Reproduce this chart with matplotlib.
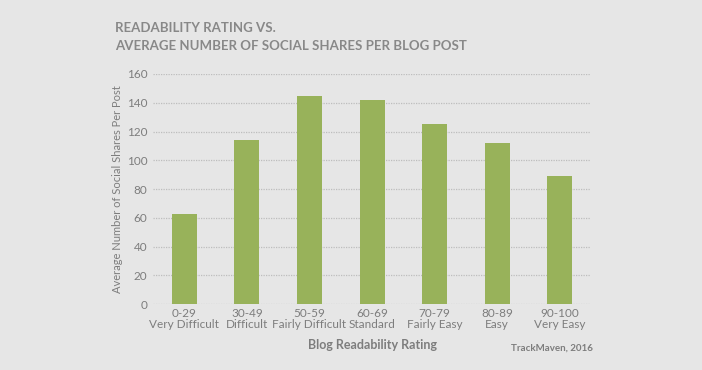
import matplotlib
matplotlib.use("Agg")
from matplotlib import pyplot as plt

# readability buckets and average shares
ranges = ["0-29", "30-49", "50-59", "60-69", "70-79", "80-89", "90-100"]
levels = ["Very Difficult", "Difficult", "Fairly Difficult", "Standard",
          "Fairly Easy", "Easy", "Very Easy"]
shares = [63, 114, 145, 142, 125, 112, 89]
yticks = [0, 20, 40, 60, 80, 100, 120, 140, 160]

bg = "#e6e6e6"
grey = "#7d7d7d"
green = "#98b25a"

plt.rcParams["font.family"] = ["Lato", "DejaVu Sans"]

fig = plt.figure(figsize=(7.02, 3.70), dpi=100, facecolor=bg)
ax = fig.add_axes([0.218, 0.178, 0.624, 0.622], facecolor=bg)

xs = range(len(ranges))
ax.bar(xs, shares, width=0.4, color=green, zorder=3)

ax.set_xlim(-0.5, len(ranges) - 0.5)
ax.set_ylim(0, 160)
ax.set_yticks(yticks)
ax.yaxis.grid(True, linestyle=(0, (1, 1)), color="#bdbdbd", linewidth=0.9, zorder=0)
ax.set_xticks(list(xs))
ax.set_xticklabels([r + "\n" + l for r, l in zip(ranges, levels)],
                   linespacing=1.0)
ax.tick_params(axis="both", length=0, colors=grey, labelsize=8.5)
ax.tick_params(axis="y", pad=4)
ax.tick_params(axis="x", pad=3)
for s in ax.spines.values():
    s.set_visible(False)

ax.set_ylabel("Average Number of Social Shares Per Post", color=grey,
              fontsize=8, labelpad=3)
ax.set_xlabel("Blog Readability Rating", color=grey, fontsize=9,
              fontweight="bold", labelpad=6)

fig.text(0.164, 0.925, "READABILITY RATING VS.", color="#888888",
         fontsize=9.5, fontweight="bold", va="center")
fig.text(0.164, 0.877, "AVERAGE NUMBER OF SOCIAL SHARES PER BLOG POST",
         color="#888888", fontsize=9.5, fontweight="bold", va="center")
fig.text(0.845, 0.06, "TrackMaven, 2016", color=grey, fontsize=7,
         fontweight="bold", ha="right", va="center")

plt.savefig("out.png", dpi=100, facecolor=bg)
